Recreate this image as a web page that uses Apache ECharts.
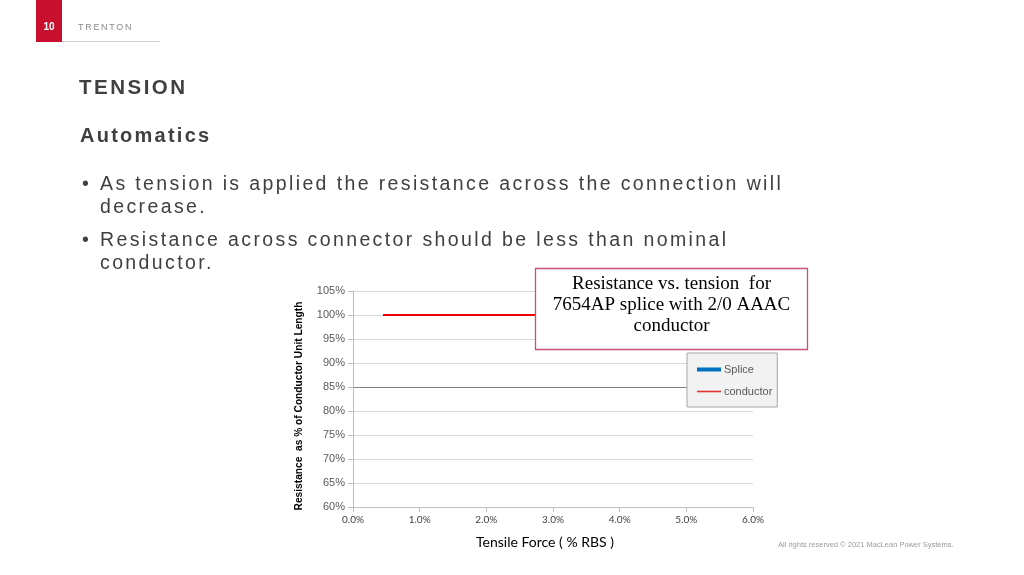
<!DOCTYPE html>
<html><head><meta charset="utf-8">
<script src="https://cdn.jsdelivr.net/npm/echarts@6/dist/echarts.min.js"></script>
<style>
html,body{margin:0;padding:0;background:#fff;width:1024px;height:575px;overflow:hidden;font-family:"Liberation Sans",Arial,sans-serif}
#chart{position:absolute;left:0;top:0;width:1024px;height:575px}
.t{position:absolute;white-space:nowrap;color:#404040}
</style></head><body>
<div id="chart"></div>
<div style="position:absolute;left:36px;top:0;width:26px;height:42px;background:#c8102e"></div>
<div class="t" style="left:36px;top:21px;width:26px;text-align:center;color:#fff;font-weight:bold;font-size:10px;">10</div>
<div class="t" style="left:78px;top:22px;font-size:9px;letter-spacing:1.7px;color:#8a8a8a;">TRENTON</div>
<div style="position:absolute;left:62px;top:41px;width:98px;height:1px;background:#d0d0d0"></div>
<div class="t" style="left:79px;top:75px;font-size:20.5px;font-weight:bold;letter-spacing:2.5px;">TENSION</div>
<div class="t" style="left:80px;top:124px;font-size:20px;font-weight:bold;letter-spacing:2.25px;">Automatics</div>
<div class="t" style="left:82px;top:172px;font-size:19.5px;letter-spacing:2.38px;line-height:23px;"><span style="display:inline-block;width:18px;letter-spacing:0">•</span>As tension is applied the resistance across the connection will<br><span style="padding-left:18px">decrease.</span></div>
<div class="t" style="left:82px;top:228px;font-size:19.5px;letter-spacing:2.38px;line-height:23px;"><span style="display:inline-block;width:18px;letter-spacing:0">•</span>Resistance across connector should be less than nominal<br><span style="padding-left:18px">conductor.</span></div>
<div class="t" style="left:778px;top:540px;font-size:7.5px;color:#9a9a9a;">All rights reserved © 2021 MacLean Power Systems.</div>
<script>
var xTicks = [0, 1, 2, 3, 4, 5, 6];
var yTicks = [60, 65, 70, 75, 80, 85, 90, 95, 100, 105];
var spliceData = [];
var conductorData = [[0.45, 100], [6.0, 100]];
var titleLines = ['Resistance vs. tension  for', '7654AP splice with 2/0 AAAC', 'conductor'];
var chart = echarts.init(document.getElementById('chart'));
chart.setOption({
  animation: false,
  title: {
    text: titleLines.map(function (s) { return '{c|' + s + '}'; }).join('\n'),
    left: 535, top: 267,
    padding: [7, 14, 14, 14],
    backgroundColor: '#fff',
    borderColor: '#c8507a', borderWidth: 1.3,
    textStyle: {
      fontWeight: 'normal',
      rich: { c: { fontFamily: 'Liberation Serif', fontSize: 19, fontWeight: 'normal', color: '#000', lineHeight: 21, width: 245, align: 'center' } }
    }
  },
  legend: {
    orient: 'vertical', left: 687, top: 353,
    padding: [11, 5, 10, 10], itemGap: 11,
    backgroundColor: '#f2f2f2', borderColor: '#a6a6a6', borderWidth: 1,
    itemWidth: 24, itemHeight: 10,
    textStyle: { fontFamily: 'Liberation Sans', fontSize: 11, color: '#595959', padding: [0,0,0,-2] },
    data: [
      { name: 'Splice', icon: 'path://M0,3 L24,3 L24,7 L0,7 Z', itemStyle: { color: '#0070c0' } },
      { name: 'conductor', icon: 'path://M0,4.2 L24,4.2 L24,5.8 L0,5.8 Z', itemStyle: { color: '#e03030' } }
    ]
  },
  grid: { left: 353, right: 271, top: 291, bottom: 68 },
  graphic: [{
    type: 'text', x: 299, y: 406, rotation: Math.PI / 2,
    style: { text: 'Resistance  as % of Conductor Unit Length', fontFamily: 'Liberation Sans', fontSize: 10.2, fontWeight: 'bold', fill: '#000', align: 'center', verticalAlign: 'middle' }
  }],
  xAxis: {
    type: 'value', min: 0, max: 6, interval: 1,
    name: 'Tensile Force ( % RBS )', nameLocation: 'middle', nameGap: 28,
    nameTextStyle: { fontFamily: 'Lato', fontSize: 14, color: '#000', padding: [0, 16, 0, 0] },
    axisLine: { show: true, lineStyle: { color: '#bfbfbf' } },
    axisTick: { show: true, length: 5, lineStyle: { color: '#bfbfbf' } },
    axisLabel: { fontFamily: 'Lato', fontSize: 10, color: '#404040', margin: 8, formatter: function (v) { return v.toFixed(1) + '%'; } },
    splitLine: { show: false }
  },
  yAxis: {
    type: 'value', min: 60, max: 105, interval: 5,
    axisLine: { show: true, lineStyle: { color: '#bfbfbf' } },
    axisTick: { show: true, length: 5, lineStyle: { color: '#bfbfbf' } },
    axisLabel: { fontFamily: 'Liberation Sans', fontSize: 11, color: '#595959', margin: 8, formatter: function (v) { return v + '%'; } },
    splitLine: { show: true, lineStyle: { width: 1, color: ['#d9d9d9','#d9d9d9','#d9d9d9','#d9d9d9','#d9d9d9','#808080','#d9d9d9','#d9d9d9','#d9d9d9','#d9d9d9'] } }
  },
  series: [
    { name: 'Splice', type: 'line', data: spliceData, showSymbol: false, lineStyle: { color: '#0070c0', width: 3 }, itemStyle: { color: '#0070c0' } },
    { name: 'conductor', type: 'line', data: conductorData, showSymbol: false, lineStyle: { color: '#f00000', width: 2 }, itemStyle: { color: '#f00000' }, z: 1 }
  ]
});
</script>
</body></html>
